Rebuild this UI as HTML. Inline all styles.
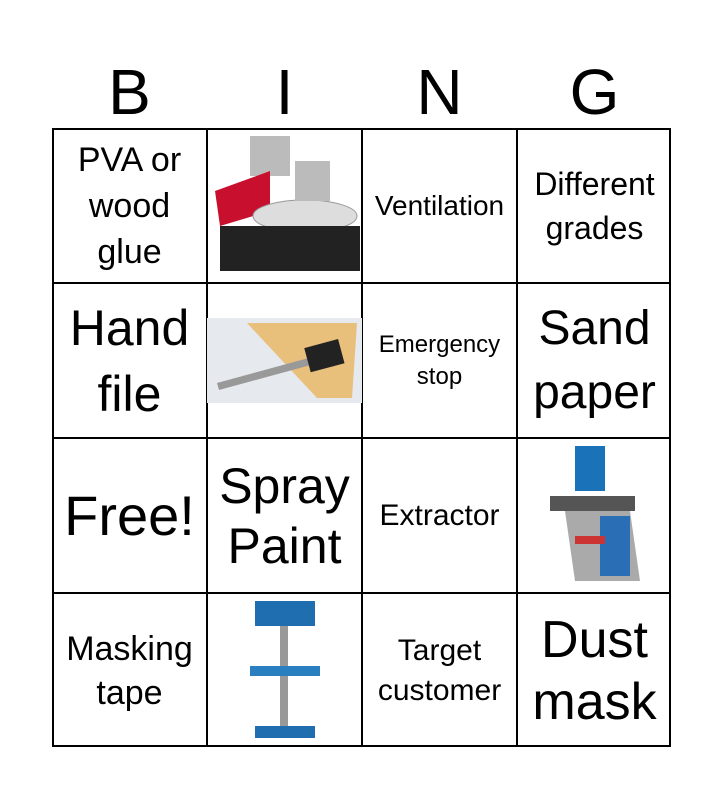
<!DOCTYPE html>
<html><head><meta charset="utf-8"><style>
body{margin:0;width:723px;height:800px;background:#fff;font-family:"Liberation Sans",Arial,sans-serif;position:relative;overflow:hidden}
.h{position:absolute;top:56px;width:155px;text-align:center;font-size:64px;line-height:72px}
.c{position:absolute;width:155px;height:155px;display:flex;align-items:center;justify-content:center;text-align:center;box-sizing:border-box}
.grid{position:absolute;left:52px;top:128px;width:619px;height:619px;border:2px solid #000;box-sizing:border-box}
.v{position:absolute;top:128px;height:619px;width:2px;background:#000}
.hz{position:absolute;left:52px;width:619px;height:2px;background:#000}
</style></head><body>
<div class="h" style="left:52px">B</div><div class="h" style="left:207px">I</div><div class="h" style="left:362px">N</div><div class="h" style="left:517px">G</div>
<div class="grid"></div>
<div class="v" style="left:206px"></div><div class="v" style="left:361px"></div><div class="v" style="left:516px"></div>
<div class="hz" style="top:282px"></div><div class="hz" style="top:437px"></div><div class="hz" style="top:592px"></div>

<div class="c" style="left:52px;top:128px;font-size:34px;line-height:46px">PVA or<br>wood<br>glue</div>
<div class="c" style="left:207px;top:128px"><svg width="150" height="150" viewBox="0 0 150 150">
<rect x="40" y="5" width="40" height="40" fill="#bbb"/><path d="M5 60 L60 40 L60 80 L10 95 Z" fill="#c8102e"/><ellipse cx="95" cy="85" rx="52" ry="16" fill="#ddd" stroke="#999"/><rect x="10" y="95" width="140" height="45" fill="#222"/><rect x="85" y="30" width="35" height="40" fill="#bbb"/></svg></div>
<div class="c" style="left:362px;top:128px;font-size:28px">Ventilation</div>
<div class="c" style="left:517px;top:128px;font-size:32px;line-height:44px">Different<br>grades</div>

<div class="c" style="left:52px;top:283px;font-size:50px;line-height:66px">Hand<br>file</div>
<div class="c" style="left:207px;top:283px"><svg width="155" height="85" viewBox="0 0 155 85"><rect width="155" height="85" fill="#e6e9ee"/><path d="M40 5 L150 5 L145 80 L110 80 Z" fill="#e9bf7c"/><path d="M10 65 L120 35 L122 42 L12 72 Z" fill="#999"/><rect x="100" y="25" width="35" height="25" fill="#222" transform="rotate(-15 118 38)"/></svg></div>
<div class="c" style="left:362px;top:283px;font-size:24px;line-height:32px">Emergency<br>stop</div>
<div class="c" style="left:517px;top:283px;font-size:48px;line-height:64px">Sand<br>paper</div>

<div class="c" style="left:52px;top:438px;font-size:56px">Free!</div>
<div class="c" style="left:207px;top:438px;font-size:50px;line-height:60px">Spray<br>Paint</div>
<div class="c" style="left:362px;top:438px;font-size:30px">Extractor</div>
<div class="c" style="left:517px;top:438px"><svg width="150" height="150" viewBox="0 0 150 150"><rect x="55" y="5" width="30" height="45" fill="#1a73b8"/><rect x="30" y="55" width="85" height="15" fill="#555"/><path d="M45 70 L110 70 L120 140 L55 140 Z" fill="#aaa"/><rect x="80" y="75" width="30" height="60" fill="#2a6fb5"/><rect x="55" y="95" width="30" height="8" fill="#c33"/></svg></div>

<div class="c" style="left:52px;top:593px;font-size:34px;line-height:44px">Masking<br>tape</div>
<div class="c" style="left:207px;top:593px"><svg width="150" height="150" viewBox="0 0 150 150"><rect x="45" y="5" width="60" height="25" fill="#1f6fb0"/><rect x="70" y="30" width="8" height="105" fill="#999"/><rect x="40" y="70" width="70" height="10" fill="#2a7fc0"/><rect x="45" y="130" width="60" height="12" fill="#1f6fb0"/></svg></div>
<div class="c" style="left:362px;top:593px;font-size:30px;line-height:40px">Target<br>customer</div>
<div class="c" style="left:517px;top:593px;font-size:52px;line-height:62px">Dust<br>mask</div>
</body></html>
